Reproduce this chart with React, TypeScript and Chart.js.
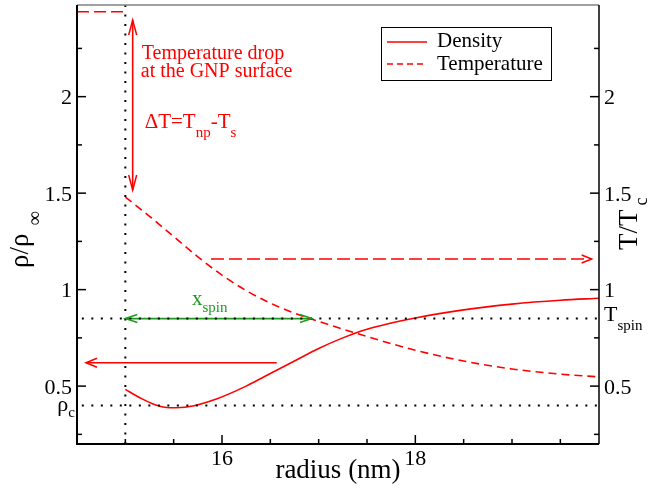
import React, { useEffect, useRef } from "react";
import { Chart, registerables } from "chart.js";

Chart.register(...registerables);

// ---------- data ----------
const densityRadius = [15.0, 15.15, 15.3, 15.46, 15.65, 15.95, 16.25, 16.5, 16.75, 17.0, 17.25, 17.5, 18.0, 18.5, 19.0, 19.5, 19.9];
const densityValues = [0.483, 0.44, 0.405, 0.388, 0.393, 0.435, 0.5, 0.565, 0.63, 0.695, 0.75, 0.795, 0.853, 0.895, 0.925, 0.945, 0.955];

const tempRadius = [15.0, 15.25, 15.5, 15.75, 16.0, 16.25, 16.5, 16.75, 17.0, 17.5, 18.0, 18.5, 19.0, 19.5, 19.9];
const tempValues = [1.48, 1.38, 1.275, 1.17, 1.075, 0.995, 0.93, 0.878, 0.835, 0.757, 0.686, 0.63, 0.589, 0.562, 0.548];

const particleTempRadius = [14.5, 15.0];
const particleTempValues = [2.44, 2.44];

const X_MIN = 14.5;
const X_MAX = 19.9;
const Y_MIN = 0.2;
const Y_MAX = 2.475;

const xMajorTicks = [16, 18];
const xMinorTicks = [15, 15.5, 16.5, 17, 17.5, 18.5, 19, 19.5];
const yMajorTicks = [0.5, 1, 1.5, 2];
const yMinorTicks = [0.25, 0.75, 1.25, 1.75, 2.25];

const surfaceRadius = 15;
const spinLevel = 0.85;
const criticalDensity = 0.4;
const refLineStart = 14.55;

const dropArrowX = [15.076, 15.076];
const dropArrowY = [2.397, 1.516];
const heatArrowX = [15.886, 19.824];
const heatArrowY = [1.159, 1.159];
const coolArrowX = [16.566, 14.593];
const coolArrowY = [0.621, 0.621];
const spinArrowX = [15.0, 16.93];
const spinArrowY = [0.85, 0.85];

// text anchors (data coords)
const dropTextPos = { x: 15.17, y: 2.194 };
const dropText2Pos = { x: 15.16, y: 2.1 };
const deltaTextPos = { x: 15.2, y: 1.838 };
const xspinTextPos = { x: 15.69, y: 0.92 };

const FONT = "'Liberation Serif', 'Times New Roman', serif";
const RED = "#ff0000";
const GREEN = "#1f9a1f";

const pts = (xs: number[], ys: number[]) => xs.map((x, i) => ({ x, y: ys[i] }));

function arrowHead(ctx: CanvasRenderingContext2D, fromX: number, fromY: number, tipX: number, tipY: number, len: number, half: number, color: string) {
  const dx = tipX - fromX;
  const dy = tipY - fromY;
  const d = Math.hypot(dx, dy) || 1;
  const ux = dx / d, uy = dy / d;
  const nx = -uy, ny = ux;
  ctx.save();
  ctx.strokeStyle = color;
  ctx.lineWidth = 1.5;
  ctx.setLineDash([]);
  ctx.beginPath();
  ctx.moveTo(tipX - ux * len + nx * half, tipY - uy * len + ny * half);
  ctx.lineTo(tipX, tipY);
  ctx.lineTo(tipX - ux * len - nx * half, tipY - uy * len - ny * half);
  ctx.stroke();
  ctx.restore();
}

type Part = { t: string; size: number; dy: number };
function drawParts(ctx: CanvasRenderingContext2D, parts: Part[], x: number, y: number, color: string, align: "left" | "right" = "left") {
  ctx.save();
  ctx.fillStyle = color;
  ctx.textBaseline = "alphabetic";
  ctx.textAlign = "left";
  let total = 0;
  for (const p of parts) {
    ctx.font = `${p.size}px ${FONT}`;
    total += ctx.measureText(p.t).width;
  }
  let cx = align === "right" ? x - total : x;
  for (const p of parts) {
    ctx.font = `${p.size}px ${FONT}`;
    ctx.fillText(p.t, cx, y + p.dy);
    cx += ctx.measureText(p.t).width;
  }
  ctx.restore();
}

const overlayPlugin = {
  id: "overlay",
  afterDatasetsDraw(chart: any) {
    const { ctx, chartArea: a, scales } = chart;
    const xs = scales.x;
    const ys = scales.y;
    const px = (v: number) => xs.getPixelForValue(v);
    const py = (v: number) => ys.getPixelForValue(v);

    ctx.save();
    // axes frame
    ctx.setLineDash([]);
    ctx.strokeStyle = "#808080";
    ctx.lineWidth = 1.5;
    ctx.beginPath();
    ctx.moveTo(a.left, a.top);
    ctx.lineTo(a.right, a.top);
    ctx.stroke();
    ctx.strokeStyle = "#000";
    ctx.lineWidth = 2;
    ctx.beginPath();
    ctx.moveTo(a.left, a.top);
    ctx.lineTo(a.left, a.bottom);
    ctx.lineTo(a.right, a.bottom);
    ctx.stroke();
    ctx.lineWidth = 1.5;
    ctx.beginPath();
    ctx.moveTo(a.right, a.top);
    ctx.lineTo(a.right, a.bottom);
    ctx.stroke();

    // ticks (inward)
    ctx.lineWidth = 1.5;
    const tick = (x1: number, y1: number, x2: number, y2: number) => {
      ctx.beginPath();
      ctx.moveTo(x1, y1);
      ctx.lineTo(x2, y2);
      ctx.stroke();
    };
    xMajorTicks.forEach((v) => tick(px(v), a.bottom, px(v), a.bottom - 9));
    xMinorTicks.forEach((v) => tick(px(v), a.bottom, px(v), a.bottom - 5));
    yMajorTicks.forEach((v) => {
      tick(a.left, py(v), a.left + 9, py(v));
      tick(a.right, py(v), a.right - 9, py(v));
    });
    yMinorTicks.forEach((v) => {
      tick(a.left, py(v), a.left + 5, py(v));
      tick(a.right, py(v), a.right - 5, py(v));
    });

    // tick labels
    ctx.fillStyle = "#000";
    ctx.font = `22px ${FONT}`;
    ctx.textBaseline = "alphabetic";
    ctx.textAlign = "center";
    xMajorTicks.forEach((v) => ctx.fillText(String(v), px(v), a.bottom + 21));
    ctx.textAlign = "right";
    yMajorTicks.forEach((v) => ctx.fillText(String(v), a.left - 5, py(v) + 7.5));
    ctx.textAlign = "left";
    yMajorTicks.forEach((v) => ctx.fillText(String(v), a.right + 5, py(v) + 7.5));

    // axis titles
    ctx.textAlign = "center";
    ctx.font = `27px ${FONT}`;
    ctx.fillText("radius (nm)", (a.left + a.right) / 2, a.bottom + 34);

    // left title rotated
    ctx.save();
    ctx.translate(28, 268);
    ctx.rotate(-Math.PI / 2);
    ctx.textAlign = "left";
    ctx.font = `27px ${FONT}`;
    ctx.fillText("ρ/ρ", 0, 0);
    const wl = ctx.measureText("ρ/ρ").width;
    ctx.font = `20px ${FONT}`;
    ctx.fillText("∞", wl + 8, 13);
    ctx.restore();

    // right title rotated
    ctx.save();
    ctx.translate(637, 250);
    ctx.rotate(-Math.PI / 2);
    ctx.textAlign = "left";
    ctx.font = `27px ${FONT}`;
    ctx.fillText("T/T", 0, 0);
    const wr = ctx.measureText("T/T").width;
    ctx.font = `18px ${FONT}`;
    ctx.fillText("c", wr + 4, 10);
    ctx.restore();

    // arrow heads
    arrowHead(ctx, px(dropArrowX[1]), py(dropArrowY[1]), px(dropArrowX[0]), py(dropArrowY[0]), 15, 4, RED);
    arrowHead(ctx, px(dropArrowX[0]), py(dropArrowY[0]), px(dropArrowX[1]), py(dropArrowY[1]), 15, 4, RED);
    arrowHead(ctx, px(heatArrowX[0]), py(heatArrowY[0]), px(heatArrowX[1]), py(heatArrowY[1]), 10, 4, RED);
    arrowHead(ctx, px(coolArrowX[0]), py(coolArrowY[0]), px(coolArrowX[1]), py(coolArrowY[1]), 11, 4.5, RED);
    arrowHead(ctx, px(spinArrowX[1]), py(spinArrowY[1]), px(spinArrowX[0]), py(spinArrowY[0]), 12, 4, GREEN);
    arrowHead(ctx, px(spinArrowX[0]), py(spinArrowY[0]), px(spinArrowX[1]), py(spinArrowY[1]), 12, 4, GREEN);

    // annotations
    drawParts(ctx, [{ t: "Temperature drop", size: 20, dy: 0 }], px(dropTextPos.x), py(dropTextPos.y), RED);
    drawParts(ctx, [{ t: "at the GNP surface", size: 20, dy: 0 }], px(dropText2Pos.x), py(dropText2Pos.y), RED);
    drawParts(
      ctx,
      [
        { t: "ΔT=T", size: 21, dy: 0 },
        { t: "np", size: 15, dy: 9 },
        { t: "-T", size: 21, dy: 0 },
        { t: "s", size: 15, dy: 9 },
      ],
      px(deltaTextPos.x),
      py(deltaTextPos.y),
      RED
    );
    drawParts(
      ctx,
      [
        { t: "x", size: 21, dy: 0 },
        { t: "spin", size: 15, dy: 7 },
      ],
      px(xspinTextPos.x),
      py(xspinTextPos.y),
      GREEN
    );
    drawParts(
      ctx,
      [
        { t: "T", size: 22, dy: 0 },
        { t: "spin", size: 15, dy: 9 },
      ],
      a.right + 5,
      py(spinLevel) + 2,
      "#000"
    );
    drawParts(
      ctx,
      [
        { t: "ρ", size: 22, dy: 0 },
        { t: "c", size: 15, dy: 6 },
      ],
      a.left - 2,
      py(criticalDensity) + 6,
      "#000",
      "right"
    );

    // legend
    const lx = a.left + 304;
    const ly = a.top + 22;
    ctx.setLineDash([]);
    ctx.strokeStyle = "#000";
    ctx.lineWidth = 1;
    ctx.strokeRect(lx + 0.5, ly + 0.5, 170, 53);
    ctx.strokeStyle = RED;
    ctx.lineWidth = 1.5;
    ctx.beginPath();
    ctx.moveTo(lx + 6, ly + 15);
    ctx.lineTo(lx + 46, ly + 15);
    ctx.stroke();
    ctx.setLineDash([6, 4]);
    ctx.beginPath();
    ctx.moveTo(lx + 6, ly + 37);
    ctx.lineTo(lx + 46, ly + 37);
    ctx.stroke();
    ctx.setLineDash([]);
    ctx.fillStyle = "#000";
    ctx.font = `21px ${FONT}`;
    ctx.textAlign = "left";
    ctx.fillText("Density", lx + 56, ly + 20);
    ctx.fillText("Temperature", lx + 56, ly + 43);
    ctx.restore();
  },
};

export default function App() {
  const ref = useRef<HTMLCanvasElement | null>(null);
  useEffect(() => {
    if (!ref.current) return;
    let alive = true;
    const dotted = { borderColor: "#000", borderWidth: 2, borderDash: [2, 7.5], pointRadius: 0, tension: 0, fill: false };
    const chart = new Chart(ref.current, {
      type: "line",
      data: {
        datasets: [
          { label: "surface", data: pts([surfaceRadius, surfaceRadius], [Y_MIN, Y_MAX]), ...dotted },
          { label: "spin", data: pts([refLineStart, X_MAX], [spinLevel, spinLevel]), ...dotted },
          { label: "critical", data: pts([refLineStart, X_MAX], [criticalDensity, criticalDensity]), ...dotted },
          {
            label: "Density",
            data: pts(densityRadius, densityValues),
            borderColor: RED,
            borderWidth: 1.6,
            pointRadius: 0,
            cubicInterpolationMode: "monotone",
            fill: false,
          },
          {
            label: "Temperature",
            data: pts(tempRadius, tempValues),
            borderColor: RED,
            borderWidth: 1.6,
            borderDash: [8, 5],
            pointRadius: 0,
            cubicInterpolationMode: "monotone",
            fill: false,
          },
          {
            label: "particleTemp",
            data: pts(particleTempRadius, particleTempValues),
            borderColor: RED,
            borderWidth: 1.6,
            borderDash: [12, 5],
            pointRadius: 0,
            fill: false,
          },
          { label: "drop", data: pts(dropArrowX, dropArrowY), borderColor: RED, borderWidth: 1.6, pointRadius: 0, fill: false },
          { label: "heat", data: pts(heatArrowX, heatArrowY), borderColor: RED, borderWidth: 1.6, borderDash: [13, 5], pointRadius: 0, fill: false },
          { label: "cool", data: pts(coolArrowX, coolArrowY), borderColor: RED, borderWidth: 1.6, pointRadius: 0, fill: false },
          { label: "xspin", data: pts(spinArrowX, spinArrowY), borderColor: GREEN, borderWidth: 1.8, pointRadius: 0, fill: false },
        ],
      },
      options: {
        animation: false,
        responsive: false,
        devicePixelRatio: 1,
        layout: { padding: { left: 77, right: 70, top: 5, bottom: 54 } },
        scales: {
          x: { type: "linear", min: X_MIN, max: X_MAX, display: false },
          y: { type: "linear", min: Y_MIN, max: Y_MAX, display: false },
        },
        plugins: { legend: { display: false }, tooltip: { enabled: false } },
        events: [],
      },
      plugins: [overlayPlugin],
    } as any);
    const fonts: any = (document as any).fonts;
    if (fonts && fonts.load) {
      Promise.all([
        fonts.load(`22px 'Liberation Serif'`),
        fonts.load(`22px 'Liberation Serif'`, "ρΔ∞"),
      ])
        .then(() => {
          if (alive) chart.update();
        })
        .catch(() => {});
    }
    return () => {
      alive = false;
      chart.destroy();
    };
  }, []);
  return (
    <div style={{ position: "fixed", left: 0, top: 0, width: 669, height: 498, background: "#fff" }}>
      <span style={{ fontFamily: "'Liberation Serif'", position: "absolute", left: -9999, top: 0 }}>Aρ∞Δ</span>
      <canvas ref={ref} width={669} height={498} style={{ width: 669, height: 498, display: "block" }} />
    </div>
  );
}
